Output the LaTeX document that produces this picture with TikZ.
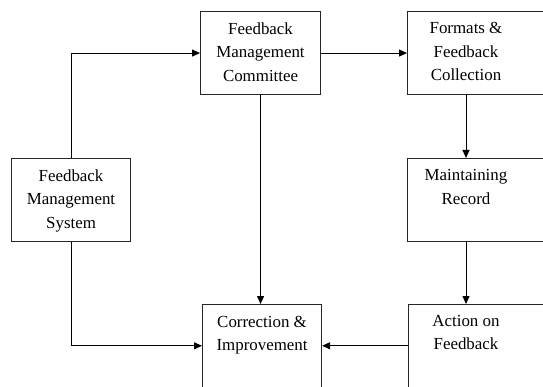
\documentclass[tikz,border=0pt]{standalone}
\usepackage{fontspec}
\setmainfont{Liberation Serif}
\usetikzlibrary{arrows.meta}
\begin{document}
\begin{tikzpicture}[x=1pt,y=-1pt,
  box/.style={draw=black!85, line width=1.1pt, rectangle, inner sep=0pt, anchor=north west},
  txt/.style={align=center, font=\fontsize{16.9}{23.5}\selectfont, inner sep=0pt},
  conn/.style={line width=1pt, -{Triangle[length=8pt,width=7pt]}},
  wire/.style={line width=1pt}]
\useasboundingbox (0,0) rectangle (543,387);
% fully visible boxes
\node[box, txt, minimum width=120pt, minimum height=83pt] (fmc) at (200,11) {\strut Feedback\\Management\\Committee\strut};
\node[box, txt, minimum width=119pt, minimum height=83pt] (fms) at (11,158) {\strut Feedback\\Management\\System\strut};
\node[box, txt, minimum width=119pt, minimum height=82.5pt] (ci) at (202,304) {\strut Correction \&\\Improvement\\\strut};
% right column boxes (cut by the picture's edge)
\node[box, minimum width=160pt, minimum height=83pt] (ffc) at (407,11) {};
\node[box, minimum width=160pt, minimum height=83pt] (mr) at (407,158) {};
\node[box, minimum width=160pt, minimum height=82.5pt] (af) at (408,304) {};
\node[txt] (ffct) at (466,52.5) {\strut Formats \&\\Feedback\\Collection\strut};
\node[txt] (mrt) at (466,199.5) {\strut Maintaining\\Record\\\strut};
\node[txt] (aft) at (466,345.25) {\strut Action on\\Feedback\\\strut};
% connectors
\draw[conn] (fms.north) |- (fmc.west);
\draw[conn] (fmc.east) -- (ffc.west);
\draw[conn] (fmc.south) -- (fmc.south |- ci.north);
\draw[conn] (ffct |- ffc.south) -- (ffct |- mr.north);
\draw[conn] (mrt |- mr.south) -- (mrt |- af.north);
\draw[conn] (af.west) -- (ci.east);
\draw[conn] (fms.south) |- (ci.west);
\end{tikzpicture}
\end{document}
